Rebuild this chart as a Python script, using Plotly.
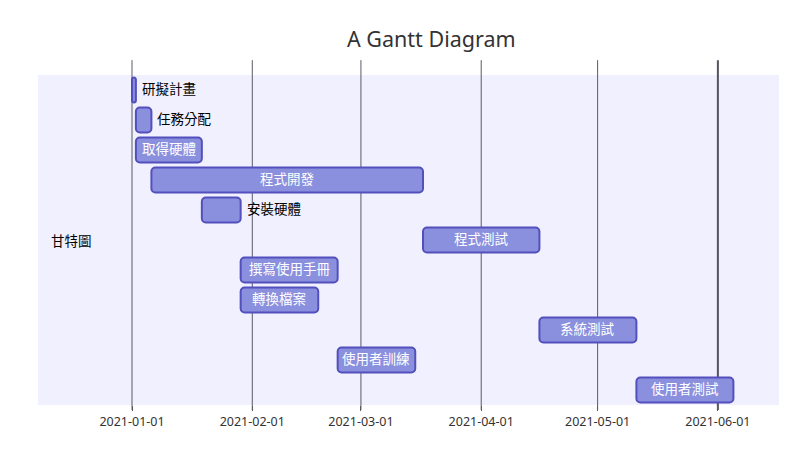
import plotly.graph_objects as go
import pandas as pd

tasks = ["研擬計畫", "任務分配", "取得硬體", "程式開發", "安裝硬體", "程式測試",
         "撰寫使用手冊", "轉換檔案", "系統測試", "使用者訓練", "使用者測試"]
starts = ["2021-01-01", "2021-01-02", "2021-01-02", "2021-01-06", "2021-01-19", "2021-03-17",
          "2021-01-29", "2021-01-29", "2021-04-16", "2021-02-23", "2021-05-11"]
ends = ["2021-01-02", "2021-01-06", "2021-01-19", "2021-03-17", "2021-01-29", "2021-04-16",
        "2021-02-23", "2021-02-18", "2021-05-11", "2021-03-15", "2021-06-05"]
label_outside = [True, True, False, False, True, False, False, False, False, False, False]
section_name = "甘特圖"
tick_dates = ["2021-01-01", "2021-02-01", "2021-03-01", "2021-04-01", "2021-05-01", "2021-06-01"]
title = "A Gantt Diagram"

s = pd.to_datetime(starts)
e = pd.to_datetime(ends)
dur_ms = [(b - a).total_seconds() * 1000 for a, b in zip(s, e)]

FONT = "Noto Sans, sans-serif"
CJK = "Noto Sans CJK TC, sans-serif"

fig = go.Figure()
fig.add_trace(go.Bar(
    y=tasks, x=dur_ms, base=[d.strftime("%Y-%m-%d") for d in s],
    orientation="h", width=0.83,
    marker=dict(color="#8a90dd", line=dict(color="#534fbc", width=2)),
    hoverinfo="skip", showlegend=False,
))

# grid lines
for i, t in enumerate(tick_dates):
    last = i == len(tick_dates) - 1
    fig.add_shape(type="line", xref="x", yref="paper", x0=t, x1=t, y0=-0.015, y1=1.045,
                  line=dict(color="#55555f" if last else "#5a5a66", width=2 if last else 1),
                  layer="below")

annots = []
for name, a, b, out in zip(tasks, s, e, label_outside):
    if out:
        annots.append(dict(x=b.strftime("%Y-%m-%d"), y=name, text=name, showarrow=False,
                           xanchor="left", xshift=4, yshift=2,
                           font=dict(family=CJK, size=13.5, color="#000000")))
    else:
        mid = a + (b - a) / 2
        annots.append(dict(x=mid.strftime("%Y-%m-%d %H:%M"), y=name, text=name, showarrow=False,
                           xanchor="center", yshift=2,
                           font=dict(family=CJK, size=13.5, color="#ffffff")))
annots.append(dict(xref="paper", yref="paper", x=0.015, y=0.5, text=section_name,
                   showarrow=False, xanchor="left", font=dict(family=CJK, size=13.5, color="#000000")))
annots.append(dict(xref="paper", yref="paper", x=0.531, y=1.0, yshift=37, text=title,
                   showarrow=False, xanchor="center", yanchor="middle",
                   font=dict(family=FONT, size=21.5, color="#333333")))

fig.update_layout(
    width=808, height=455,
    margin=dict(l=38, r=29, t=75, b=50),
    plot_bgcolor="#f0f0fe", paper_bgcolor="#ffffff",
    barcornerradius=4,
    annotations=annots,
    xaxis=dict(type="date", range=["2020-12-07 18:28", "2021-06-16 18:00"],
               tickvals=tick_dates, ticktext=tick_dates, showgrid=False, zeroline=False,
               ticks="outside", ticklen=5, tickcolor="#5a5a66",
               tickfont=dict(family=FONT, size=12.5, color="#333333"), showline=False),
    yaxis=dict(type="category", categoryorder="array", categoryarray=tasks,
               autorange="reversed", range=[10.5, -0.5], showticklabels=False,
               showgrid=False, zeroline=False),
)
fig.write_html("out.html")
